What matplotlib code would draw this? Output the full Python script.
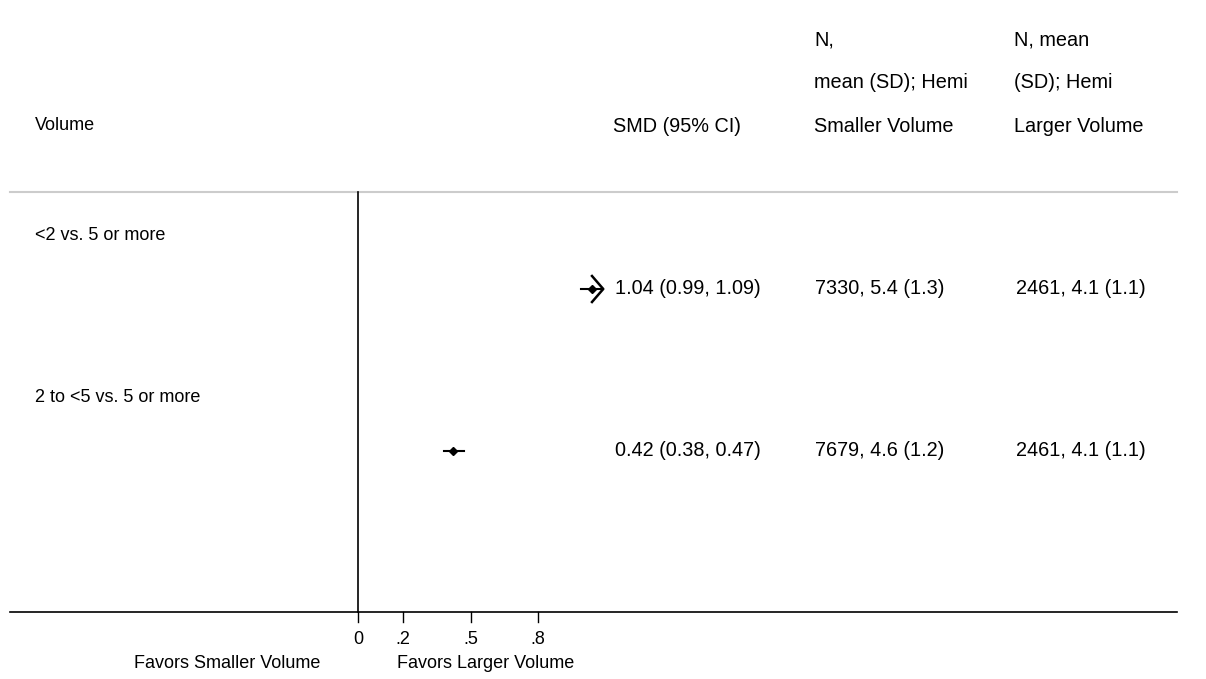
import matplotlib
matplotlib.use("Agg")
import matplotlib.pyplot as plt

plt.rcParams['font.family'] = ['Liberation Sans', 'DejaVu Sans']

# data
comparisons = ["<2 vs. 5 or more", "2 to <5 vs. 5 or more"]
smd = [1.04, 0.42]
ci_low = [0.99, 0.38]
ci_high = [1.09, 0.47]
smaller_vol = ["7330, 5.4 (1.3)", "7679, 4.6 (1.2)"]
larger_vol = ["2461, 4.1 (1.1)", "2461, 4.1 (1.1)"]
xticks = [0, 0.2, 0.5, 0.8]
xtick_labels = ["0", ".2", ".5", ".8"]
x_clip = 1.0  # CIs beyond this get an arrow

W, H = 1206, 679
fig = plt.figure(figsize=(W / 100, H / 100), dpi=100)
ax = fig.add_axes([0, 0, 1, 1])

# x in SMD units, y in pixel rows
x0_px, px_per_unit = 358, 225
ax.set_xlim(-x0_px / px_per_unit, (W - x0_px) / px_per_unit)
ax.set_ylim(H, 0)
ax.axis('off')

def px(xp):
    return (xp - x0_px) / px_per_unit

fs_l = 13     # left labels / axis
fs_r = 14.3   # right-hand columns
# headers
ax.text(px(35), 126, "Volume", fontsize=fs_l, va='center', ha='left')
ax.text(px(613), 126, "SMD (95% CI)", fontsize=fs_r, va='center', ha='left')
for yy, t in zip([40, 83, 126], ["N,", "mean (SD); Hemi", "Smaller Volume"]):
    ax.text(px(814), yy, t, fontsize=fs_r, va='center', ha='left')
for yy, t in zip([40, 83, 126], ["N, mean", "(SD); Hemi", "Larger Volume"]):
    ax.text(px(1014), yy, t, fontsize=fs_r, va='center', ha='left')

# separator and axis lines
ax.plot([px(10), px(1177)], [192, 192], color='#cccccc', lw=1.5)
ax.plot([px(10), px(1177)], [612, 612], color='black', lw=1.2)
ax.plot([0, 0], [192, 612], color='black', lw=1.2)

# ticks
for t, lab in zip(xticks, xtick_labels):
    ax.plot([t, t], [612, 622], color='black', lw=1.0)
    ax.text(t, 640, lab, fontsize=fs_l, ha='center', va='center')
ax.text(px(227), 663, "Favors Smaller Volume", fontsize=fs_l, ha='center', va='center')
ax.text(px(486), 663, "Favors Larger Volume", fontsize=fs_l, ha='center', va='center')

# rows
for i, name in enumerate(comparisons):
    ylab = 236 + i * 162
    yv = ylab + 53
    ax.text(px(35), ylab, name, fontsize=fs_l, va='center', ha='left')
    lo, hi = ci_low[i], ci_high[i]
    ax.plot([lo, hi], [yv, yv], color='black', lw=1.5)
    if hi > x_clip:
        # open chevron arrow head at the upper end
        ax.plot([hi - 0.05, hi, hi - 0.05], [yv - 13, yv, yv + 13], color='black', lw=1.8)
    ax.plot([smd[i]], [yv], marker='D', color='black', ms=4.5)
    ax.text(px(615), yv, f"{smd[i]:.2f} ({lo:.2f}, {hi:.2f})", fontsize=fs_r, va='center', ha='left')
    ax.text(px(815), yv, smaller_vol[i], fontsize=fs_r, va='center', ha='left')
    ax.text(px(1016), yv, larger_vol[i], fontsize=fs_r, va='center', ha='left')

fig.savefig("out.png", dpi=100)
